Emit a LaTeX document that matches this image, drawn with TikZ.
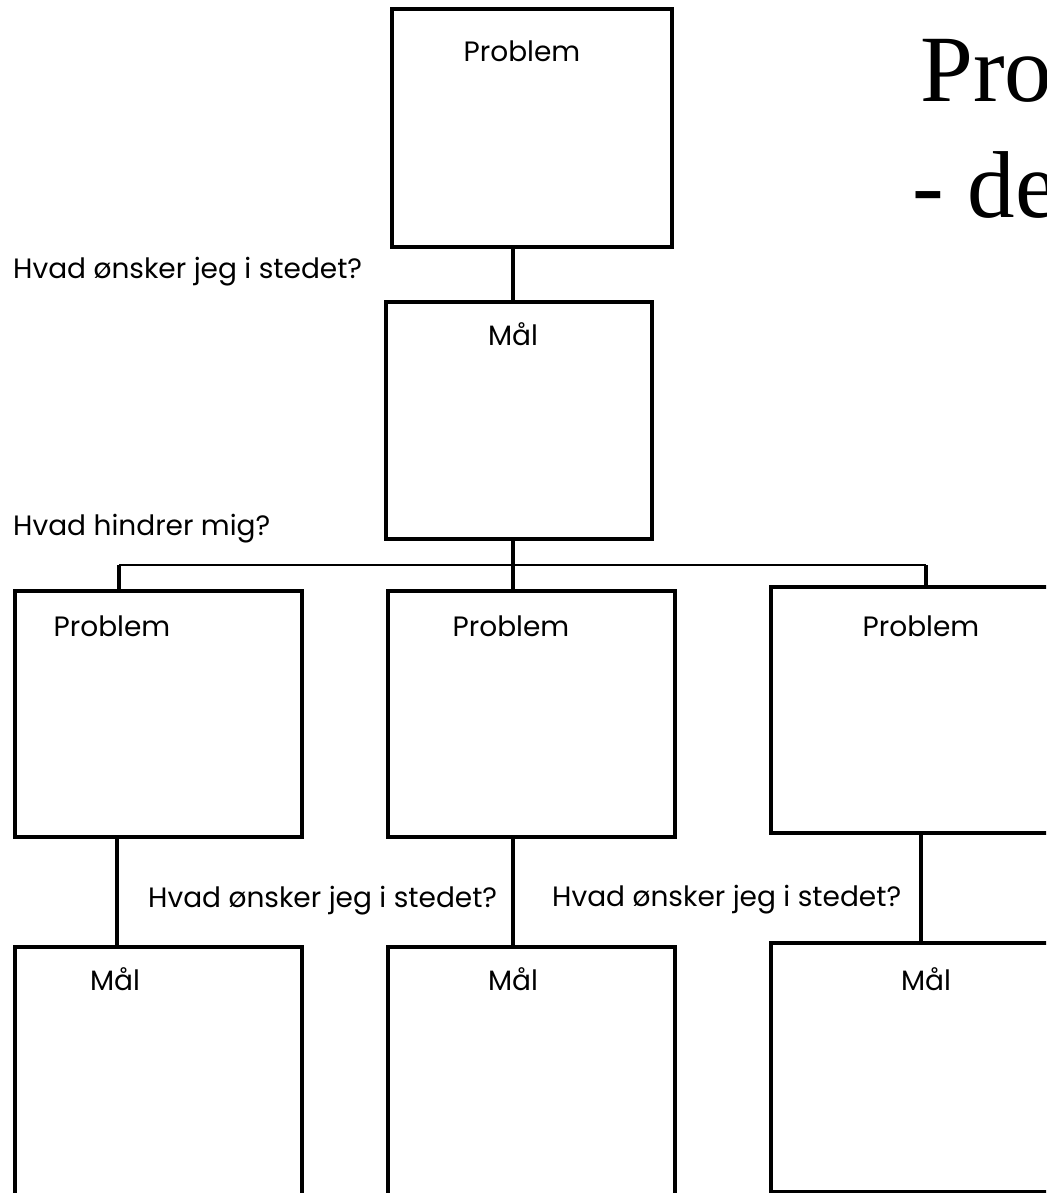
\documentclass[tikz,border=0pt]{standalone}
\usepackage{fontspec}
\setmainfont{Liberation Serif}
\newfontfamily\gothic{Poppins}
\usetikzlibrary{positioning,calc}

\begin{document}
\begin{tikzpicture}[x=1pt,y=-1pt,
    box/.style={draw, line width=4pt, inner sep=0pt, outer sep=0pt,
      minimum width=287pt, minimum height=246pt},
    link/.style={line width=3.5pt},
    bus/.style={line width=2.5pt},
    txt/.style={font=\gothic\fontsize{28}{32}\selectfont, anchor=base, inner sep=0pt},
    ask/.style={txt, anchor=base west},
    headline/.style={font=\fontsize{95}{105}\selectfont, anchor=base west, inner sep=0pt}]
  \useasboundingbox (0,0) rectangle (1046,1193);
  \clip (0,0) rectangle (1046,1193);
  % Title (runs off the page)
  \node[headline] (h1) at (920,102) {Pro};
  \node[headline] (h2) at (912,217) {- de};
  % Top problem and its goal
  \node[box, minimum width=280pt, minimum height=238pt] (p0) at (532,128) {};
  \node[txt] (tp0) at (522,62) {Problem};
  \node[box, minimum width=266pt, minimum height=237pt] (m0) at (519,420.5) {};
  \node[txt] (tm0) at (513,345) {Mål};
  \node[ask] (q0) at (13,278) {Hvad ønsker jeg i stedet?};
  \node[ask] (q1) at (13,535) {Hvad hindrer mig?};
  % Sub problems
  \node[box] (p1) at (158.5,714) {};
  \node[box] (p2) at (531.5,714) {};
  \node[box] (p3) at (914.5,710) {};
  \node[txt] (tp1) at (112,636) {Problem};
  \node[txt] (tp2) at (511,636) {Problem};
  \node[txt] (tp3) at (921,636) {Problem};
  % Sub goals
  \node[box, minimum height=293pt] (m1) at (158.5,1093.5) {};
  \node[box, minimum height=293pt] (m2) at (531.5,1093.5) {};
  \node[box, minimum height=249pt] (m3) at (914.5,1067.5) {};
  \node[txt] (tm1) at (115,990) {Mål};
  \node[txt] (tm2) at (513,990) {Mål};
  \node[txt] (tm3) at (926,990) {Mål};
  \node[ask] (q2) at (148,907) {Hvad ønsker jeg i stedet?};
  \node[ask] (q3) at (552,906) {Hvad ønsker jeg i stedet?};
  % Connectors
  \coordinate (spine) at (513,565);
  \coordinate (b1) at (119,565);
  \coordinate (b3) at (926,565);
  \coordinate (c1) at (117,0);
  \coordinate (c3) at (921,0);
  \draw[link] (p0.south -| spine) -- (m0.north -| spine);
  \draw[link] (m0.south -| spine) -- (p2.north -| spine);
  \draw[bus] (b1) -- (b3);
  \draw[link] (b1) -- (p1.north -| b1);
  \draw[link] (b3) -- (p3.north -| b3);
  \draw[link] (p1.south -| c1) -- (m1.north -| c1);
  \draw[link] (p2.south -| spine) -- (m2.north -| spine);
  \draw[link] (p3.south -| c3) -- (m3.north -| c3);
\end{tikzpicture}
\end{document}
